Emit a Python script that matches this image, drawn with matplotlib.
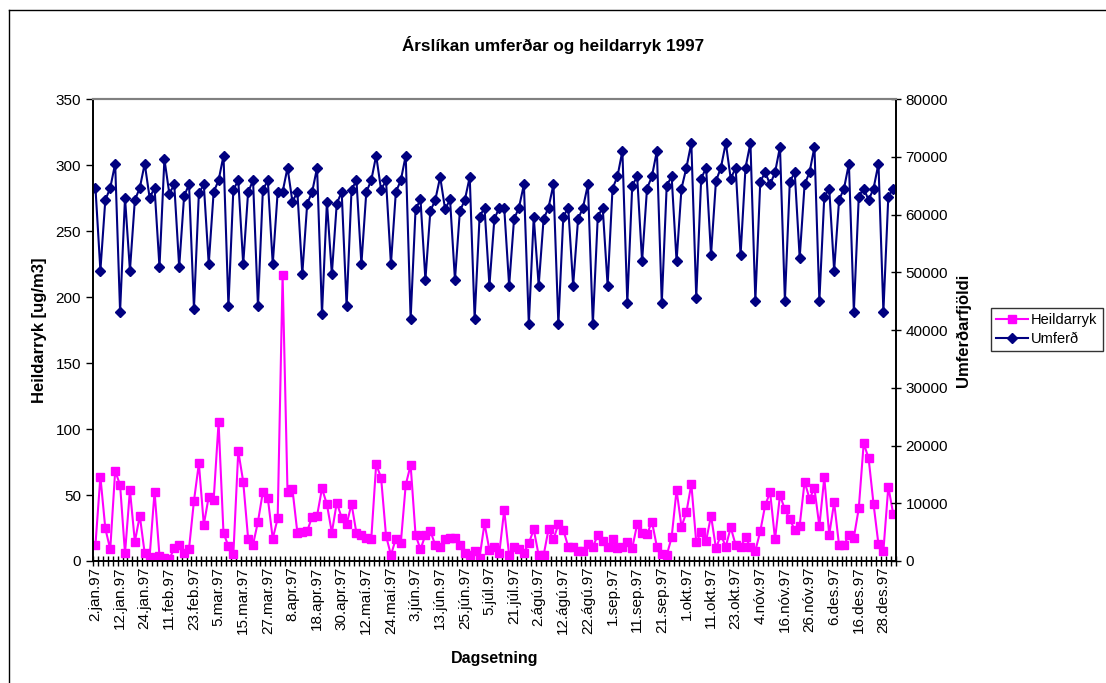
import matplotlib.pyplot as plt
from matplotlib.lines import Line2D

plt.rcParams['font.family'] = ['Liberation Sans', 'DejaVu Sans']

# x-axis labels, one every 5th sample
tick_labels = ["2.jan.97", "12.jan.97", "24.jan.97", "11.feb.97", "23.feb.97",
               "5.mar.97", "15.mar.97", "27.mar.97", "8.apr.97", "18.apr.97",
               "30.apr.97", "12.maí.97", "24.maí.97", "3.jún.97", "13.jún.97",
               "25.jún.97", "5.júl.97", "21.júl.97", "2.ágú.97", "12.ágú.97",
               "22.ágú.97", "1.sep.97", "11.sep.97", "21.sep.97", "1.okt.97",
               "11.okt.97", "23.okt.97", "4.nóv.97", "16.nóv.97", "26.nóv.97",
               "6.des.97", "16.des.97", "28.des.97"]

# Heildarryk [ug/m3]
heildarryk = [12.4, 63.9, 24.7, 8.8, 68.2, 57.6, 5.8, 53.8, 14.6, 34.3,
              5.8, 3.3, 52.5, 4.0, 2.5, 1.3, 9.8, 12.4, 6.3, 9.3,
              45.5, 74.0, 27.5, 48.7, 46.2, 105.0, 21.0, 11.4, 5.0, 83.3,
              60.1, 16.9, 12.4, 29.8, 52.5, 47.5, 16.9, 32.3, 216.4, 52.5,
              54.3, 21.5, 22.2, 22.7, 33.6, 34.3, 55.0, 42.9, 21.5, 44.2,
              32.8, 27.8, 43.2, 21.0, 19.7, 17.7, 16.4, 73.2, 63.1, 19.2,
              4.5, 16.9, 13.4, 57.6, 72.7, 19.7, 8.8, 19.7, 23.0, 11.9,
              10.9, 16.4, 17.2, 17.2, 11.9, 5.8, 4.3, 7.8, 2.5, 28.5,
              8.3, 10.9, 5.8, 38.6, 4.3, 10.9, 9.3, 6.3, 13.4, 24.0,
              4.3, 4.3, 24.0, 16.4, 27.8, 23.5, 10.9, 10.9, 7.8, 7.8,
              12.9, 10.4, 19.7, 15.4, 10.4, 16.9, 9.6, 10.4, 14.1, 9.8,
              27.8, 21.0, 20.2, 29.8, 10.9, 5.3, 4.3, 17.9, 53.8, 26.0,
              36.9, 58.3, 14.1, 22.2, 15.2, 34.3, 9.6, 19.7, 10.9, 25.5,
              12.1, 10.4, 17.9, 10.4, 7.8, 22.5, 42.4, 52.0, 16.4, 49.7,
              39.1, 31.6, 23.5, 26.8, 60.1, 47.2, 55.0, 26.3, 63.4, 19.9,
              44.4, 11.9, 11.9, 19.9, 17.7, 39.9, 89.1, 77.8, 43.2, 12.6,
              7.6, 56.3, 35.6]

# Umferð (umferðarfjöldi)
umferd = [64600, 50300, 62500, 64600, 68800, 43200, 62900, 50300, 62500, 64600,
          68800, 62900, 64600, 50900, 69600, 63600, 65200, 50900, 63200, 65200,
          43700, 63700, 65200, 51400, 63900, 65900, 70200, 44100, 64300, 65900,
          51400, 63900, 65900, 44100, 64300, 65900, 51400, 63900, 63900, 68100,
          62200, 63900, 49700, 61900, 63900, 68100, 42800, 62200, 49700, 61900,
          63900, 44100, 64300, 65900, 51400, 63900, 65900, 70200, 64300, 65900,
          51400, 63900, 65900, 70200, 41900, 60900, 62600, 48700, 60600, 62500,
          66500, 60900, 62600, 48700, 60600, 62500, 66500, 41900, 59600, 61200,
          47700, 59200, 61200, 61200, 47700, 59200, 61200, 65200, 41000, 59600,
          47700, 59200, 61200, 65200, 41000, 59600, 61200, 47700, 59200, 61200,
          65200, 41000, 59600, 61200, 47700, 64500, 66600, 71000, 44700, 65000,
          66600, 51900, 64500, 66600, 71000, 44700, 65000, 66600, 51900, 64500,
          68100, 72400, 45600, 66200, 68100, 53000, 65800, 68100, 72400, 66200,
          68100, 53000, 68100, 72400, 45100, 65700, 67300, 65200, 67300, 71700,
          45100, 65700, 67300, 52500, 65200, 67300, 71700, 45100, 63100, 64500,
          50300, 62500, 64500, 68800, 43200, 63100, 64500, 62500, 64500, 68800,
          43200, 63100, 64500]

n = len(umferd)
x = list(range(n))

fig = plt.figure(figsize=(11.06, 6.83), dpi=100)
ax = fig.add_axes([93 / 1106, 1 - 561 / 683, (895.7 - 93) / 1106, (561 - 99) / 683])
ax2 = ax.twinx()

ax.plot(x, heildarryk, color='#FF00FF', lw=1.5, marker='s', ms=6, mec='#FF00FF')
ax2.plot(x, umferd, color='#000080', lw=1.5, marker='D', ms=5, mec='#000080')

ax.set_xlim(-0.5, n - 0.5)
ax.set_ylim(0, 350)
ax2.set_ylim(0, 80000)
ax.set_yticks(range(0, 351, 50))
ax2.set_yticks(range(0, 80001, 10000))

ax.set_xticks(x[::5])
ax.set_xticklabels(tick_labels, rotation=90)
ax.set_xticks([i - 0.5 for i in range(n + 1)], minor=True)
ax.tick_params(axis='x', which='major', length=0, labelsize=11, pad=4)
ax.tick_params(axis='x', which='minor', length=7, direction='inout', width=1)
ax.tick_params(axis='y', length=5, direction='out', labelsize=11, width=1)
ax2.tick_params(axis='y', length=7, direction='inout', labelsize=11, width=1)

for a in (ax, ax2):
    a.spines['top'].set_color('#808080')
    a.spines['top'].set_linewidth(1.5)
    a.spines['left'].set_linewidth(1.2)
    a.spines['right'].set_linewidth(1.2)
    a.spines['bottom'].set_linewidth(1.2)

ax.set_ylabel("Heildarryk [ug/m3]", fontsize=12, fontweight='bold', labelpad=6)
ax2.set_ylabel("Umferðarfjöldi", fontsize=12, fontweight='bold', labelpad=6)
ax.set_xlabel("Dagsetning", fontsize=11.5, fontweight='bold', labelpad=12)
fig.text(553 / 1106, 1 - 45 / 683, "Árslíkan umferðar og heildarryk 1997",
         ha='center', va='center', fontsize=12.3, fontweight='bold')

handles = [Line2D([], [], color='#FF00FF', lw=1.5, marker='s', ms=6),
           Line2D([], [], color='#000080', lw=1.5, marker='D', ms=5)]
leg = fig.legend(handles, ["Heildarryk", "Umferð"], loc='upper left',
                 bbox_to_anchor=(991 / 1106, 1 - 308 / 683), fontsize=10.5,
                 frameon=True, fancybox=False, edgecolor='black',
                 handlelength=2.2, handletextpad=0.2, borderpad=0.35,
                 labelspacing=0.35, borderaxespad=0)
leg.get_frame().set_linewidth(1)

# outer chart frame
fig.add_artist(Line2D([9 / 1106, 9 / 1106], [0, 1 - 10 / 683], color='black',
                      lw=1, transform=fig.transFigure))
fig.add_artist(Line2D([9 / 1106, 1], [1 - 10 / 683, 1 - 10 / 683], color='black',
                      lw=1, transform=fig.transFigure))

fig.savefig("out.png", dpi=100)
